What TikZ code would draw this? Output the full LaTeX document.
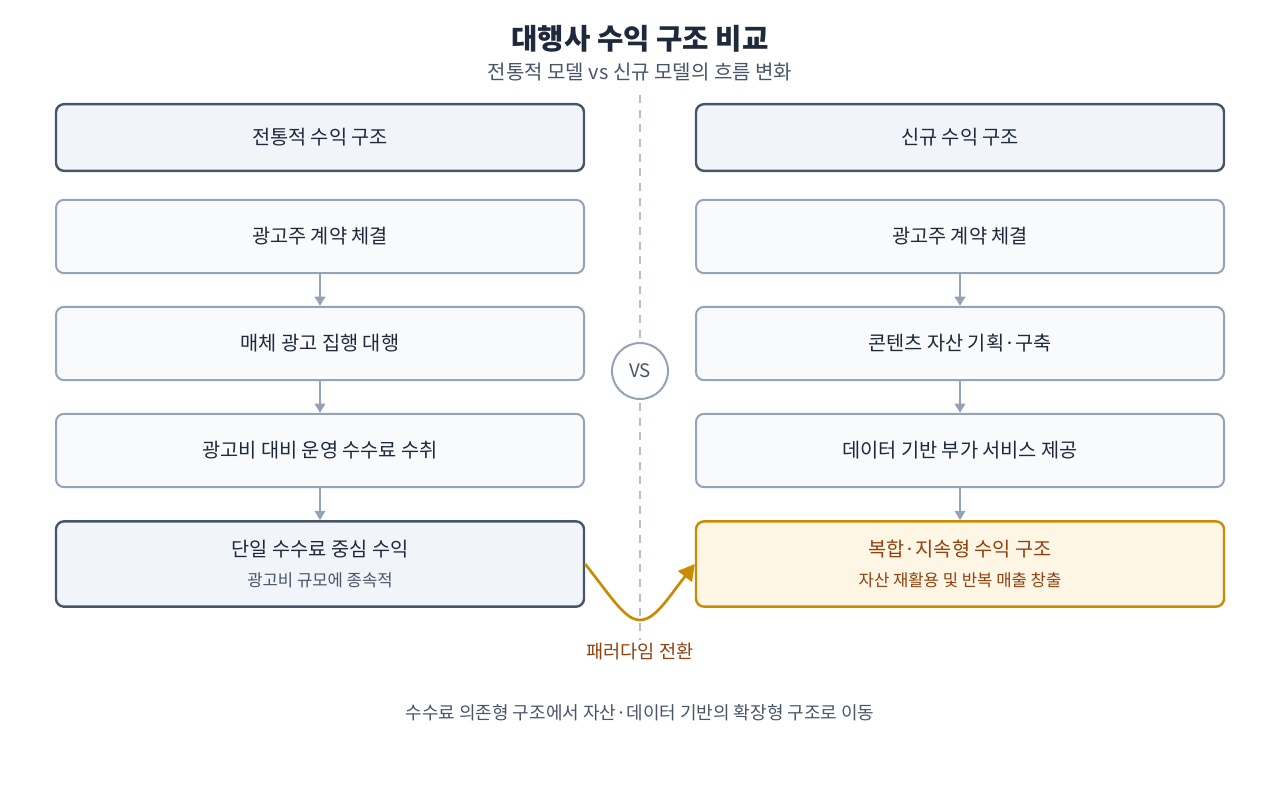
\documentclass[tikz,border=0pt]{standalone}
\usepackage{fontspec}
\setmainfont{Noto Sans CJK KR}
\usetikzlibrary{arrows.meta}
\definecolor{dark}{HTML}{1E293B}
\definecolor{hb}{HTML}{475569}
\definecolor{hf}{HTML}{F1F4F8}
\definecolor{nb}{HTML}{94A3B8}
\definecolor{nf}{HTML}{F8FAFC}
\definecolor{ob}{HTML}{CA8A04}
\definecolor{of}{HTML}{FEF6E4}
\definecolor{ot}{HTML}{92400E}
\begin{document}
\begin{tikzpicture}[x=0.75pt,y=-0.75pt,
 box/.style={draw=nb,fill=nf,line width=1.5pt,rounded corners=6pt,minimum width=396pt,text=dark,font=\fontsize{14.8}{17}\selectfont,align=center},
 head/.style={box,draw=hb,fill=hf,line width=1.8pt},
 gold/.style={box,draw=ob,fill=of,text=ot,line width=1.8pt},
 arr/.style={draw=nb,line width=1.5pt,-{Triangle[length=7pt,width=8pt]}}]
\useasboundingbox (0,0) rectangle (1280,800);
\draw[nb!70,line width=1.2pt,dash pattern=on 6pt off 5pt] (640,95) -- (640,640);
\node[font=\bfseries\fontsize{21.5}{24}\selectfont,text=dark] (t) at (640,39) {대행사 수익 구조 비교};
\node[font=\fontsize{15}{17}\selectfont,text=hb] (st) at (640,72) {전통적 모델 vs 신규 모델의 흐름 변화};
\node[head,minimum height=50pt] (L0) at (320,137.5) {전통적 수익 구조};
\node[box,minimum height=55pt] (L1) at (320,236.5) {광고주 계약 체결};
\node[box,minimum height=55pt] (L2) at (320,343.5) {매체 광고 집행 대행};
\node[box,minimum height=55pt] (L3) at (320,450.5) {광고비 대비 운영 수수료 수취};
\node[head,minimum height=64pt] (L4) at (320,564) {단일 수수료 중심 수익\\[5pt]{\fontsize{12.5}{14}\selectfont\color{hb}광고비 규모에 종속적}};
\node[head,minimum height=50pt] (R0) at (960,137.5) {신규 수익 구조};
\node[box,minimum height=55pt] (R1) at (960,236.5) {광고주 계약 체결};
\node[box,minimum height=55pt] (R2) at (960,343.5) {콘텐츠 자산 기획·구축};
\node[box,minimum height=55pt] (R3) at (960,450.5) {데이터 기반 부가 서비스 제공};
\node[gold,minimum height=64pt] (R4) at (960,564) {복합·지속형 수익 구조\\[5pt]{\fontsize{12.5}{14}\selectfont 자산 재활용 및 반복 매출 창출}};
\foreach \s in {L,R}{
 \draw[arr] (\s1) -- (\s2);
 \draw[arr] (\s2) -- (\s3);
 \draw[arr] (\s3) -- (\s4);}
\node[circle,draw=nb,fill=white,line width=1.5pt,minimum size=42pt,inner sep=0pt,text=hb,font=\fontsize{14}{16}\selectfont] (vs) at (640,371) {VS};
\draw[ob,line width=2pt,-{Triangle[length=12pt,width=13pt]}] (L4.east) .. controls (612,598) and (625,620) .. (640,620) .. controls (655,620) and (668,598) .. (R4.west);
\node[text=ot,font=\fontsize{14}{16}\selectfont] (pc) at (640,651) {패러다임 전환};
\node[text=hb,font=\fontsize{13.5}{16}\selectfont] (ft) at (640,713) {수수료 의존형 구조에서 자산·데이터 기반의 확장형 구조로 이동};
\end{tikzpicture}
\end{document}
